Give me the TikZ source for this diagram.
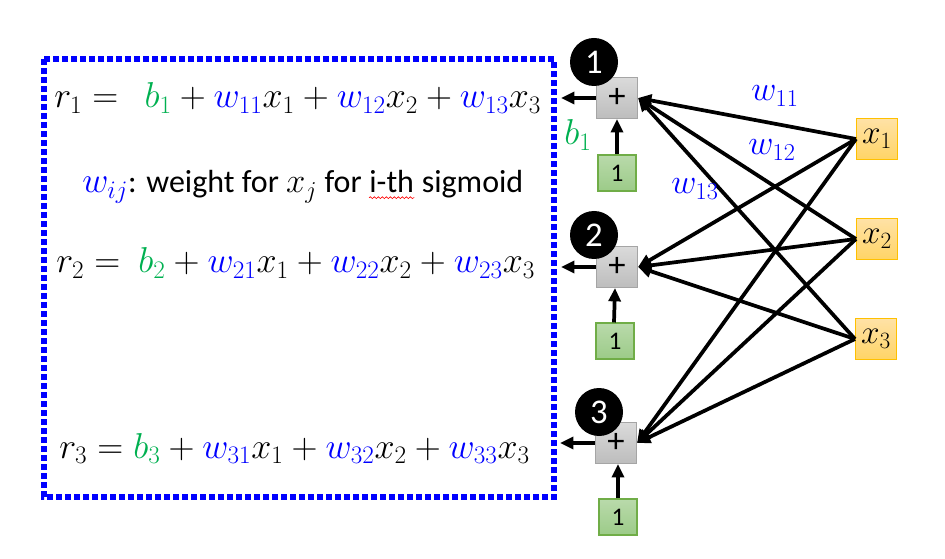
\RequirePackage{fix-cm}
\documentclass[tikz,border=0pt]{standalone}
\usepackage{fontspec}
\setmainfont{Carlito}
\usetikzlibrary{arrows.meta,decorations.pathmorphing}
\definecolor{wblue}{HTML}{0000FF}
\definecolor{bgreen}{HTML}{00B050}
\definecolor{plustop}{HTML}{DADADA}
\definecolor{plusbot}{HTML}{BDBDBD}
\definecolor{plusline}{HTML}{A5A5A5}
\definecolor{onetop}{HTML}{B9DAAB}
\definecolor{onebot}{HTML}{9CCB88}
\definecolor{oneline}{HTML}{70AD47}
\definecolor{xtop}{HTML}{FFE2A6}
\definecolor{xbot}{HTML}{FFD466}
\definecolor{xline}{HTML}{FFC000}
\begin{document}
\begin{tikzpicture}[x=0.75pt,y=-0.75pt,
  plusbox/.style={draw=plusline, line width=0.8pt, top color=plustop, bottom color=plusbot,
    minimum width=30.75pt, minimum height=30.75pt, inner sep=0pt, font=\fontsize{26}{26}\selectfont},
  onebox/.style={draw=oneline, line width=0.8pt, top color=onetop, bottom color=onebot,
    minimum width=28.5pt, minimum height=27pt, inner sep=0pt, font=\fontsize{19}{19}\selectfont},
  xbox/.style={draw=xline, line width=0.8pt, top color=xtop, bottom color=xbot,
    minimum width=30.75pt, minimum height=30.75pt, inner sep=0pt, font=\fontsize{25}{25}\selectfont},
  numcirc/.style={circle, fill=black, text=white, minimum size=36pt, inner sep=0pt,
    font=\fontsize{26}{26}\selectfont},
  wire/.style={line width=2.8pt, -{Triangle[length=10pt,width=9pt]}},
  eq/.style={anchor=base west, inner sep=0pt, font=\fontsize{27}{30}\selectfont},
  wlab/.style={text=wblue, inner sep=0pt, font=\fontsize{26}{28}\selectfont},
  txt/.style={anchor=base west, inner sep=0pt, font=\fontsize{24}{28}\selectfont}
]
\useasboundingbox (0,0) rectangle (945,559);

% dotted frame
\draw[wblue, line width=4pt, dash pattern=on 4.5pt off 2.25pt] (44,59) rectangle (554,497);

% equations
\node[eq] (eq1) at (54,108) {$r_1 =\ \ {\color{bgreen}b_1} + {\color{wblue}w_{11}}x_1 + {\color{wblue}w_{12}}x_2 + {\color{wblue}w_{13}}x_3$};
\node[eq] (eq2) at (56,273) {$r_2 =\ {\color{bgreen}b_2} + {\color{wblue}w_{21}}x_1 + {\color{wblue}w_{22}}x_2 + {\color{wblue}w_{23}}x_3$};
\node[eq] (eq3) at (59,458) {$r_3 = {\color{bgreen}b_3} + {\color{wblue}w_{31}}x_1 + {\color{wblue}w_{32}}x_2 + {\color{wblue}w_{33}}x_3$};

% weight description
\node[txt] (wl) at (82,193) {{\fontsize{27}{30}\selectfont$\color{wblue}w_{ij}$}: weight for {\fontsize{26}{30}\selectfont$x_j$} for};
\node[txt] (ith) at ([xshift=5.4pt]wl.base east) {i-th};
\node[txt] (sg) at ([xshift=5.4pt]ith.base east) {sigmoid};
\draw[red, line width=0.5pt, decorate, decoration={snake, amplitude=0.7pt, segment length=3pt}]
  ([yshift=-3.5pt]ith.base west) -- ([yshift=-3.5pt]ith.base east);

% plus boxes
\node[plusbox] (p1) at (617,98) {+};
\node[plusbox] (p2) at (617,267) {+};
\node[plusbox] (p3) at (616,443) {+};

% numbered circles
\node[numcirc] (c1) at (594,62) {1};
\node[numcirc] (c2) at (594,235) {2};
\node[numcirc] (c3) at (599,412) {3};

% bias boxes
\node[onebox] (g1) at (617,173) {1};
\node[onebox] (g2) at (615,341) {1};
\node[onebox] (g3) at (618,517) {1};

% input boxes
\node[xbox] (x1) at (877,139) {$x_1$};
\node[xbox] (x2) at (877,239) {$x_2$};
\node[xbox] (x3) at (876,339) {$x_3$};

% outputs
\coordinate (o1) at (561,98);
\coordinate (o2) at (561,267);
\coordinate (o3) at (560,443);
\draw[wire] (p1.west) -- (o1);
\draw[wire] (p2.west) -- (o2);
\draw[wire] (p3.west) -- (o3);

% bias arrows
\draw[wire] (g1.north) -- (p1.south);
\draw[wire] ([xshift=-0.75pt]g2.north) -- ([xshift=-1.5pt]p2.south);
\draw[wire] (g3.north) -- ([xshift=1.5pt]p3.south);
\node[text=bgreen, inner sep=0pt, font=\fontsize{27}{30}\selectfont] (b1l) at (578,135) {$b_1$};

% weight connections
\foreach \i in {1,2,3}{
  \foreach \j in {1,2,3}{
    \draw[wire] (x\j.west) -- (p\i.east);
  }
}

% weight labels
\node[wlab] (w11) at (775,96) {$w_{11}$};
\node[wlab] (w12) at (772,150) {$w_{12}$};
\node[wlab] (w13) at (695,189) {$w_{13}$};
\end{tikzpicture}
\end{document}
